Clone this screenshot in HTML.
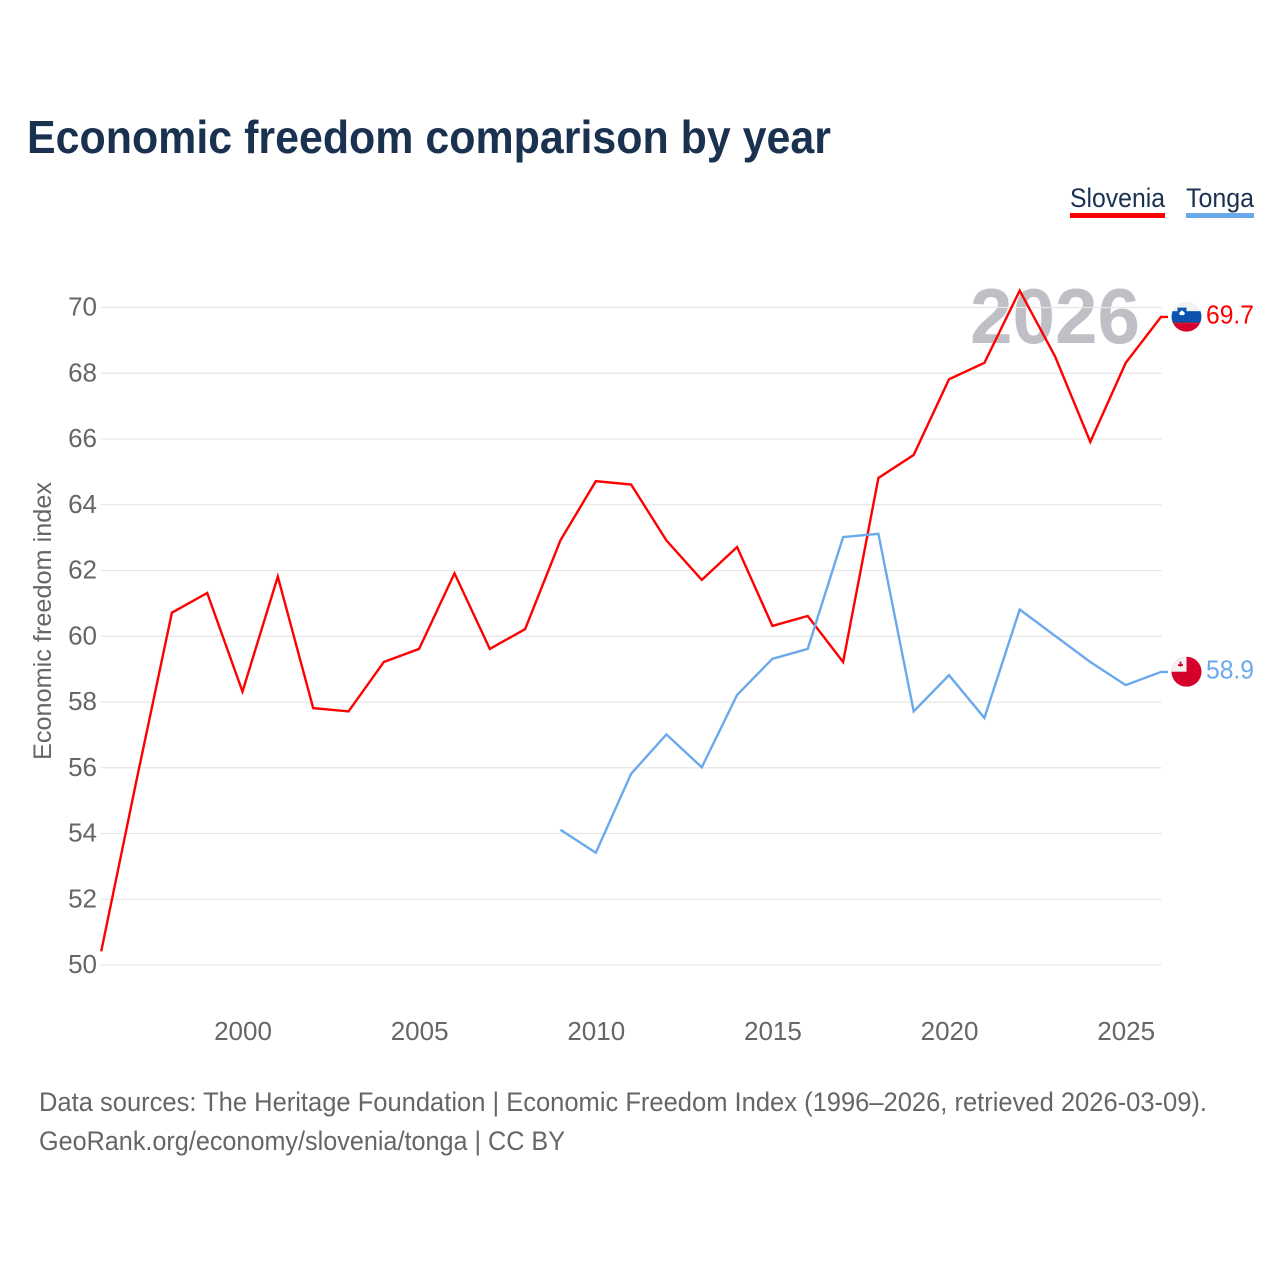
<!DOCTYPE html>
<html>
<head>
<meta charset="utf-8">
<style>
html,body{margin:0;padding:0;background:#fff;}
svg{display:block;font-family:"Liberation Sans",sans-serif;}
</style>
</head>
<body>
<svg id="chart" width="1280" height="1280" viewBox="0 0 1280 1280" xmlns="http://www.w3.org/2000/svg">
<rect width="1280" height="1280" fill="#fff"/>
<text x="27" y="153" font-size="46" font-weight="700" fill="#1a3150" textLength="804" lengthAdjust="spacingAndGlyphs">Economic freedom comparison by year</text>
<g>
<text x="1070" y="207" font-size="27" fill="#1a3150" textLength="95" lengthAdjust="spacingAndGlyphs">Slovenia</text>
<rect x="1070" y="213" width="95" height="5" fill="#ff0000"/>
</g>
<g>
<text x="1186" y="207" font-size="27" fill="#1a3150" textLength="68" lengthAdjust="spacingAndGlyphs">Tonga</text>
<rect x="1186" y="213" width="68" height="5" fill="#6aa9ec"/>
</g>
<text x="970" y="343" font-size="78" font-weight="700" fill="#bfc0c5" textLength="170" lengthAdjust="spacingAndGlyphs">2026</text>
<g id="grid"></g>
<g id="yticks"></g>
<g id="xticks"></g>
<text transform="translate(51 621) rotate(-90)" text-anchor="middle" font-size="25" fill="#666" textLength="278" lengthAdjust="spacingAndGlyphs">Economic freedom index</text>
<g id="series"></g>
<g id="flags"></g>
<text x="39" y="1111" font-size="27" fill="#666" textLength="1168" lengthAdjust="spacingAndGlyphs">Data sources: The Heritage Foundation | Economic Freedom Index (1996–2026, retrieved 2026-03-09).</text>
<text x="39" y="1150" font-size="27" fill="#666" textLength="526" lengthAdjust="spacingAndGlyphs">GeoRank.org/economy/slovenia/tonga | CC BY</text>
</svg>
<script>
const sloveniaYears = [1996,1997,1998,1999,2000,2001,2002,2003,2004,2005,2006,2007,2008,2009,2010,2011,2012,2013,2014,2015,2016,2017,2018,2019,2020,2021,2022,2023,2024,2025,2026];
const sloveniaValues = [50.4,55.6,60.7,61.3,58.3,61.8,57.8,57.7,59.2,59.6,61.9,59.6,60.2,62.9,64.7,64.6,62.9,61.7,62.7,60.3,60.6,59.2,64.8,65.5,67.8,68.3,70.5,68.5,65.9,68.3,69.7];
const tongaYears = [2009,2010,2011,2012,2013,2014,2015,2016,2017,2018,2019,2020,2021,2022,2023,2024,2025,2026];
const tongaValues = [54.1,53.4,55.8,57.0,56.0,58.2,59.3,59.6,63.0,63.1,57.7,58.8,57.5,60.8,60.0,59.2,58.5,58.9];
const yTickValues = [50,52,54,56,58,60,62,64,66,68,70];
const xTickValues = [2000,2005,2010,2015,2020,2025];

const NS = 'http://www.w3.org/2000/svg';
const RED = '#ff0000';
const BLUE = '#6aa9ec';
function xScale(year){ return 101.2 + (year - 1996) * (1161 - 101.2) / 30; }
function yScale(v){ return 965 - (v - 50) * (965 - 307.5) / 20; }
function make(tag, attrs, parent){
  const el = document.createElementNS(NS, tag);
  for (const k in attrs) el.setAttribute(k, attrs[k]);
  parent.appendChild(el);
  return el;
}
const grid = document.getElementById('grid');
const yticks = document.getElementById('yticks');
const xticks = document.getElementById('xticks');
const series = document.getElementById('series');
const flags = document.getElementById('flags');

yTickValues.forEach(function(v){
  const line = make('line', {x1:101, x2:1161.5, y1:yScale(v), y2:yScale(v), stroke:'#e6e6e6', 'stroke-width':1.2}, grid);
  
  
  const t = make('text', {x:97, y:yScale(v)+8, 'text-anchor':'end', 'font-size':26, fill:'#666'}, yticks);
  
  
  t.textContent = v;
});
xTickValues.forEach(function(y){
  const t = make('text', {x:xScale(y)+0.5, y:1040, 'text-anchor':'middle', 'font-size':26, fill:'#666'}, xticks);
  
  
  t.textContent = y;
});
function points(years, values){
  return years.map(function(y, i){ return xScale(y).toFixed(1) + ',' + (yScale(values[i]) - 0.5).toFixed(1); }).join(' ');
}
function drawLine(years, values, color){
  const lastY = yScale(values[values.length - 1]) - 0.5;
  return make('polyline', {points: points(years, values) + ' 1168,' + lastY.toFixed(1), fill:'none', stroke:color, 'stroke-width':2.4, 'stroke-linejoin':'miter'}, series);
}
const sloveniaLine = drawLine(sloveniaYears, sloveniaValues, RED);


const tongaLine = drawLine(tongaYears, tongaValues, BLUE);



const defs = make('defs', {}, flags);
const cx = 1186.5, r = 15;
function clipFor(id, cy){
  const c = make('clipPath', {id:id}, defs);
  make('circle', {cx:cx, cy:cy, r:r}, c);
}
// Slovenia flag
const sCy = yScale(sloveniaValues[sloveniaValues.length - 1]) - 0.7;
clipFor('clip-si', sCy);
const si = make('g', {'clip-path':'url(#clip-si)'}, flags);


make('rect', {x:cx-r, y:sCy-r, width:30, height:10, fill:'#f3f3f3'}, si);
make('rect', {x:cx-r, y:sCy-5.5, width:30, height:11.5, fill:'#0a53b0'}, si);
make('rect', {x:cx-r, y:sCy+5.5, width:30, height:1, fill:'#7a2a3a'}, si);
make('rect', {x:cx-r, y:sCy+6.5, width:30, height:9, fill:'#d5002b'}, si);
make('path', {d:'M'+(cx-9)+' '+(sCy-9)+'h9v7q0 4-4.5 5q-4.5-1-4.5-5z', fill:'#0a53b0'}, si);
make('path', {d:'M'+(cx-7.5)+' '+(sCy-3.5)+'l3-3l3 3l-1 2h-4z', fill:'#fff'}, si);
const sLabel = make('text', {x:1206, y:sCy+7, 'font-size':26, fill:RED, textLength:48, lengthAdjust:'spacingAndGlyphs'}, flags);


sLabel.textContent = sloveniaValues[sloveniaValues.length - 1].toFixed(1);

// Tonga flag
const tCy = yScale(tongaValues[tongaValues.length - 1]) - 0.7;
clipFor('clip-to', tCy);
const to = make('g', {'clip-path':'url(#clip-to)'}, flags);


make('rect', {x:cx-r, y:tCy-r, width:30, height:30, fill:'#d5002b'}, to);
make('rect', {x:cx-r, y:tCy-r, width:15, height:15, fill:'#f3f3f3'}, to);
make('rect', {x:cx-8.5, y:tCy-9, width:5, height:1.8, fill:'#d5002b', transform:'translate(0 1.5)'}, to);
make('rect', {x:cx-6.9, y:tCy-10.1, width:1.8, height:5, fill:'#d5002b'}, to);
const tLabel = make('text', {x:1206, y:tCy+7, 'font-size':26, fill:BLUE, textLength:48, lengthAdjust:'spacingAndGlyphs'}, flags);


tLabel.textContent = tongaValues[tongaValues.length - 1].toFixed(1);
</script>
</body>
</html>
